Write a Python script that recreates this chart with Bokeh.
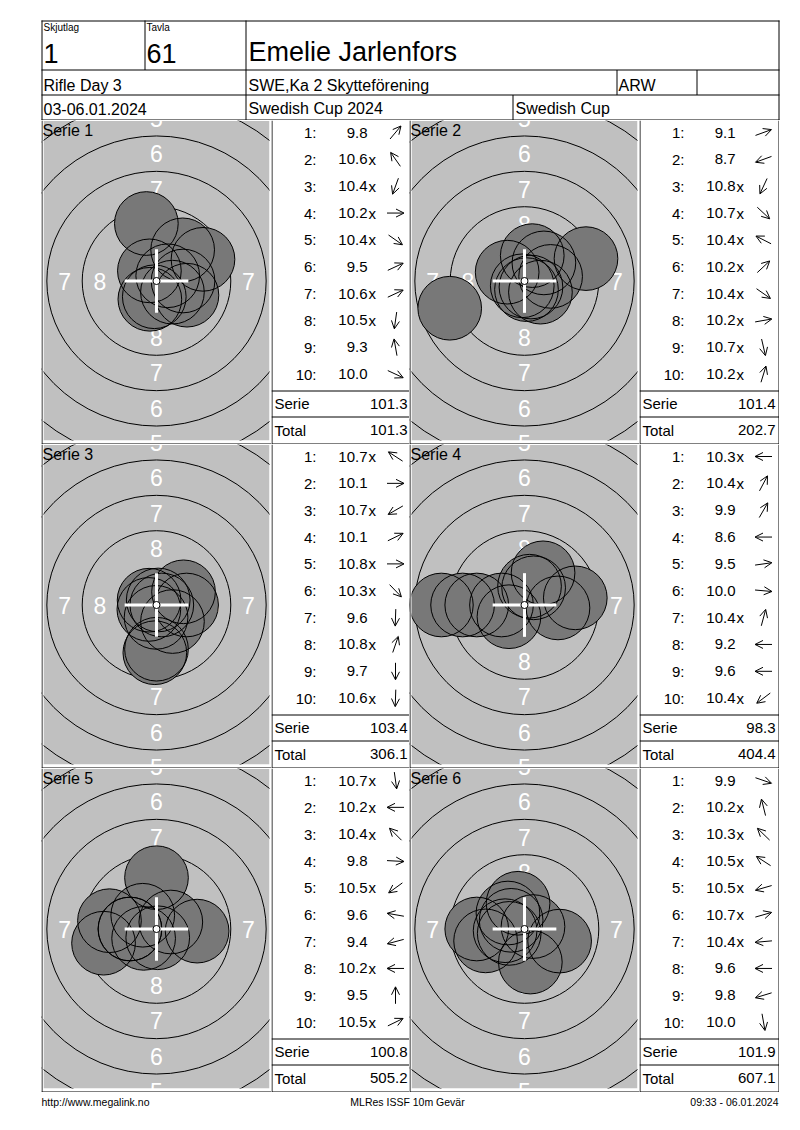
import math
from bokeh.plotting import figure
from bokeh.layouts import column, row
from bokeh.models import Range1d, Spacer, Arrow, OpenHead, ColumnDataSource
from bokeh.core.properties import value
from bokeh.embed import file_html
from bokeh.resources import INLINE

# ---------------- data ----------------
HEADER_SMALL = ["Skjutlag", "Tavla"]
HEADER_BIG = ["1", "61"]
SHOOTER = "Emelie Jarlenfors"
ROW2 = ["Rifle Day 3", "SWE,Ka 2 Skytteförening", "ARW"]
ROW3 = ["03-06.01.2024", "Swedish Cup 2024", "Swedish Cup"]
FOOTER = ["http://www.megalink.no", "MLRes ISSF 10m Gevär", "09:33 - 06.01.2024"]

SERIES = ["Serie 1", "Serie 2", "Serie 3", "Serie 4", "Serie 5", "Serie 6"]
S1_SHOTS = ["9.8", "10.6x", "10.4x", "10.2x", "10.4x", "9.5", "10.6x", "10.5x", "9.3", "10.0"]
S1_DIRS = [50, 125, 250, 0, -35, 25, 25, 262, 100, -25]
S2_SHOTS = ["9.1", "8.7", "10.8x", "10.7x", "10.4x", "10.2x", "10.4x", "10.2x", "10.7x", "10.2x"]
S2_DIRS = [20, 200, 245, -43, 153, 43, -35, 10, -77, 73]
S3_SHOTS = ["10.7x", "10.1", "10.7x", "10.1", "10.8x", "10.3x", "9.6", "10.8x", "9.7", "10.6x"]
S3_DIRS = [147, 0, 210, 26, 0, -46, 268, 71, 270, 268]
S4_SHOTS = ["10.3x", "10.4x", "9.9", "8.6", "9.5", "10.0", "10.4x", "9.2", "9.6", "10.4x"]
S4_DIRS = [180, 62, 60, 180, 8, -5, 75, 180, 180, 217]
S5_SHOTS = ["10.7x", "10.2x", "10.4x", "9.8", "10.5x", "9.6", "9.4", "10.2x", "9.5", "10.5x"]
S5_DIRS = [278, 180, 135, -3, 216, 170, 195, 180, 90, 26]
S6_SHOTS = ["9.9", "10.2x", "10.3x", "10.5x", "10.5x", "10.7x", "10.4x", "9.6", "9.8", "10.0"]
S6_DIRS = [-19, 104, 136, 147, 196, 16, 185, 180, 197, 280]
SERIE_SUMS = ["101.3", "101.4", "103.4", "98.3", "100.8", "101.9"]
RUNNING_TOTALS = ["101.3", "202.7", "306.1", "404.4", "505.2", "607.1"]
RING_NUMBERS = [1, 2, 3, 4, 5, 6, 7, 8]

ALL_SHOTS = [S1_SHOTS, S2_SHOTS, S3_SHOTS, S4_SHOTS, S5_SHOTS, S6_SHOTS]
ALL_DIRS = [S1_DIRS, S2_DIRS, S3_DIRS, S4_DIRS, S5_DIRS, S6_DIRS]

# ---------------- ISSF 10 m air rifle target geometry (mm) ----------------
K = 14.15            # screen px per mm
RING9_D = 5.5        # ring 9 diameter
RING_STEP = 5.0      # diameter step per ring
PELLET_R = 2.25
DOT_R = 0.25

FONT = value("Liberation Sans")
GRAY = "#C0C0C0"
SHOT = "#787878"


def ring_r(n):
    return (RING9_D + (9 - n) * RING_STEP) / 2.0


def base_fig(w, h, xr, yr):
    f = figure(width=w, height=h, x_range=Range1d(*xr), y_range=Range1d(*yr),
               output_backend="svg", toolbar_location=None,
               x_axis_location=None, y_axis_location=None, min_border=0,
               outline_line_color=None, background_fill_color="white",
               border_fill_color="white")
    f.xgrid.visible = False
    f.ygrid.visible = False
    return f


def P(v):
    return v / K


def target_fig(idx):
    xlo, xhi, ylo, yhi = P(-115), P(115), P(-163.5), P(160.5)
    f = base_fig(230, 324, (xlo, xhi), (ylo, yhi))
    f.quad(left=P(-113), right=P(113), bottom=P(-159.5), top=P(160),
           fill_color=GRAY, line_color=None)
    radii = [ring_r(n) for n in RING_NUMBERS]
    f.circle(x=[0] * len(radii), y=[0] * len(radii), radius=radii,
             fill_color=None, line_color="black", line_width=1)
    lx, ly, lt = [], [], []
    for n in RING_NUMBERS:
        r = ring_r(n) - RING_STEP / 4.0
        for dx, dy in [(0, 1), (0, -1), (-1, 0), (1, 0)]:
            x, y = dx * r, dy * r
            # keep only the labels that show (at least partly) inside the panel
            if xlo - P(5) <= x <= xhi + P(5) and ylo - P(5) <= y <= yhi + P(5):
                lx.append(x)
                ly.append(y)
                lt.append(str(n))
    f.text(x=lx, y=ly, text=lt, text_color="white", text_font=FONT,
           text_font_size="23px", text_align="center", text_baseline="middle")
    sx, sy = [], []
    for lab, ang in zip(ALL_SHOTS[idx], ALL_DIRS[idx]):
        s = float(lab.rstrip("x"))
        d = (10.95 - s) * (RING_STEP / 2.0)
        a = math.radians(ang)
        sx.append(d * math.cos(a))
        sy.append(d * math.sin(a))
    f.circle(x=sx, y=sy, radius=PELLET_R, fill_color=SHOT, line_color=None)
    f.circle(x=sx, y=sy, radius=PELLET_R, fill_color=None, line_color="black", line_width=1)
    f.segment(x0=[-PELLET_R, 0], y0=[0, -PELLET_R], x1=[PELLET_R, 0], y1=[0, PELLET_R],
              line_color="white", line_width=3)
    f.circle(x=[0], y=[0], radius=DOT_R, fill_color="white", line_color="black", line_width=1)
    # white gaps around the gray area (clip) and frame lines
    f.quad(left=[P(-115), P(113), P(-115), P(-115)], right=[P(-113), P(115), P(115), P(115)],
           bottom=[P(-163.5), P(-163.5), P(-163.5), P(160)],
           top=[P(160.5), P(160.5), P(-159.5), P(160.5)],
           fill_color="white", line_color=None)
    f.segment(x0=[P(-114.5), P(-115)], y0=[P(-163.5), P(-163)],
              x1=[P(-114.5), P(115)], y1=[P(160.5), P(-163)],
              line_color="black", line_width=1)
    f.text(x=[P(-114)], y=[P(159.5)], text=[SERIES[idx]], text_color="black",
           text_font=FONT, text_font_size="16px", text_align="left", text_baseline="top")
    return f


def score_fig(idx, w):
    f = base_fig(w, 324, (0, w), (324, 0))
    shots = ALL_SHOTS[idx]
    ys = [12 + i * 26.85 for i in range(len(shots))]
    f.text(x=[45] * len(shots), y=ys, text=[f"{i + 1}:" for i in range(len(shots))],
           text_font=FONT, text_font_size="15px", text_align="right",
           text_baseline="middle", text_color="black")
    f.text(x=[96] * len(shots), y=ys, text=[s.rstrip("x") for s in shots],
           text_font=FONT, text_font_size="15px", text_align="right",
           text_baseline="middle", text_color="black")
    xs = [s for s in shots if s.endswith("x")]
    xys = [y for s, y in zip(shots, ys) if s.endswith("x")]
    f.text(x=[97] * len(xs), y=xys, text=["x"] * len(xs),
           text_font=FONT, text_font_size="15px", text_align="left",
           text_baseline="middle", text_color="black")
    L = 8.5
    x0, y0, x1, y1 = [], [], [], []
    for ang, y in zip(ALL_DIRS[idx], ys):
        a = math.radians(ang)
        x0.append(124 - L * math.cos(a))
        y0.append(y + L * math.sin(a))
        x1.append(124 + L * math.cos(a))
        y1.append(y - L * math.sin(a))
    src = ColumnDataSource(dict(x0=x0, y0=y0, x1=x1, y1=y1))
    f.add_layout(Arrow(end=OpenHead(size=8, line_width=1, line_color="black"),
                       x_start="x0", y_start="y0", x_end="x1", y_end="y1",
                       source=src, line_width=1, line_color="black"))
    f.text(x=[3, 3], y=[283, 309.5], text=["Serie", "Total"], text_font=FONT,
           text_font_size="15px", text_align="left", text_baseline="middle", text_color="black")
    f.text(x=[136, 136], y=[283, 309.5], text=[SERIE_SUMS[idx], RUNNING_TOTALS[idx]],
           text_font=FONT, text_font_size="15px", text_align="right",
           text_baseline="middle", text_color="black")
    hx0 = [0.5, 0, 0, 0]
    hy0 = [0, 270.5, 296.5, 323.5]
    hx1 = [0.5, w, w, w]
    hy1 = [324, 270.5, 296.5, 323.5]
    if w == 140:
        hx0.append(w - 0.5); hy0.append(0); hx1.append(w - 0.5); hy1.append(324)
    f.segment(x0=hx0, y0=hy0, x1=hx1, y1=hy1, line_color="black", line_width=1)
    return f


# ---------------- header (page coordinates) ----------------
hdr = base_fig(791, 120, (1, 792), (121, 1))
hdr.segment(x0=[42, 42, 42, 42, 42.5, 779.5, 145.5, 246.5, 617.5, 697.5, 513.5],
            y0=[21.5, 70.5, 95.5, 120.5, 21, 21, 21, 21, 70.5, 70.5, 95.5],
            x1=[780, 780, 780, 780, 42.5, 779.5, 145.5, 246.5, 617.5, 697.5, 513.5],
            y1=[21.5, 70.5, 95.5, 120.5, 121, 121, 70.5, 121, 95.5, 95.5, 121],
            line_color="black", line_width=1)
hdr.text(x=[44, 147], y=[27.5, 27.5], text=HEADER_SMALL, text_font=FONT, text_font_size="10px",
         text_baseline="middle", text_align="left", text_color="black")
hdr.text(x=[44, 147], y=[53.5, 53.5], text=HEADER_BIG, text_font=FONT, text_font_size="27px",
         text_baseline="middle", text_align="left", text_color="black")
hdr.text(x=[249], y=[52.5], text=[SHOOTER], text_font=FONT, text_font_size="27px",
         text_baseline="middle", text_align="left", text_color="black")
hdr.text(x=[44, 249, 619], y=[85.5, 85.5, 85.5], text=ROW2, text_font=FONT,
         text_font_size="16px", text_baseline="middle", text_align="left", text_color="black")
hdr.text(x=[44, 249, 516], y=[109, 109, 109], text=ROW3, text_font=FONT,
         text_font_size="16px", text_baseline="middle", text_align="left", text_color="black")

# ---------------- footer ----------------
ftr = base_fig(791, 29, (1, 792), (1122, 1093))
ftr.text(x=[42, 408, 779], y=[1102.5, 1102.5, 1102.5], text=FOOTER, text_font=FONT,
         text_font_size="10.5px", text_baseline="middle", text_align=["left", "center", "right"],
         text_color="black")

rows = [hdr]
for r in range(3):
    a, b = 2 * r, 2 * r + 1
    rows.append(row(Spacer(width=41, height=324), target_fig(a), score_fig(a, 138),
                    target_fig(b), score_fig(b, 140), Spacer(width=12, height=324)))
rows.append(ftr)
layout = column(*rows)

open("out.html", "w").write(file_html(layout, INLINE))
